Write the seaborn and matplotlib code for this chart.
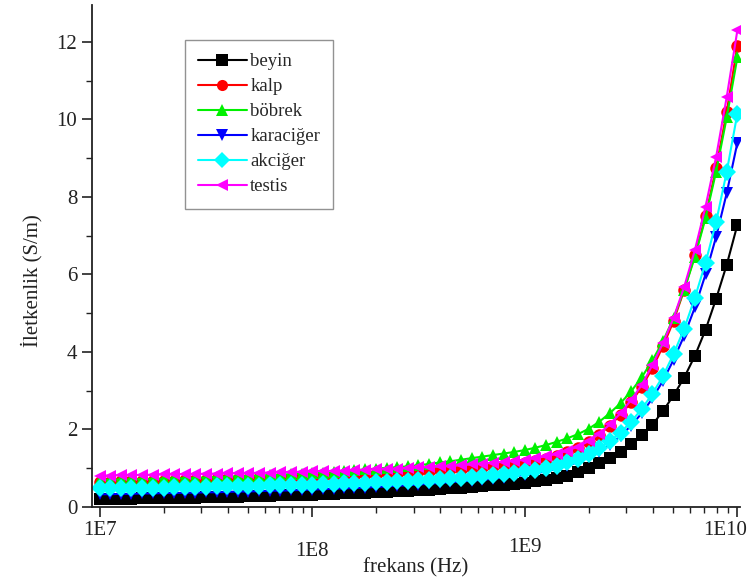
import numpy as np
import pandas as pd
import matplotlib
matplotlib.use("Agg")
import matplotlib.pyplot as plt
import matplotlib.transforms as mtransforms
import seaborn as sns
from matplotlib.ticker import LogLocator, NullFormatter, FixedLocator, FixedFormatter, MultipleLocator

# ---- data ----
mantissa = [1.00, 1.12, 1.26, 1.41, 1.58, 1.78, 2.00, 2.24, 2.51, 2.82,
            3.16, 3.55, 3.98, 4.47, 5.01, 5.62, 6.31, 7.08, 7.94, 8.91]
decades = [1e7, 1e8, 1e9]
frekans = [m * d for d in decades for m in mantissa] + [1e10]

beyin = [0.20, 0.20, 0.21, 0.21, 0.22, 0.22, 0.23, 0.23, 0.24, 0.24,
         0.25, 0.26, 0.26, 0.27, 0.28, 0.28, 0.29, 0.30, 0.30, 0.31,
         0.32, 0.33, 0.34, 0.35, 0.36, 0.37, 0.38, 0.39, 0.41, 0.42,
         0.44, 0.45, 0.47, 0.49, 0.50, 0.52, 0.54, 0.56, 0.58, 0.60,
         0.63, 0.66, 0.70, 0.75, 0.81, 0.90, 1.01, 1.13, 1.27, 1.43,
         1.62, 1.86, 2.12, 2.48, 2.88, 3.34, 3.90, 4.57, 5.37, 6.25,
         7.28]
kalp = [0.65, 0.65, 0.66, 0.66, 0.67, 0.67, 0.68, 0.68, 0.69, 0.69,
        0.70, 0.71, 0.71, 0.72, 0.73, 0.74, 0.74, 0.75, 0.76, 0.77,
        0.78, 0.79, 0.80, 0.81, 0.83, 0.84, 0.85, 0.87, 0.88, 0.90,
        0.92, 0.93, 0.95, 0.97, 0.99, 1.01, 1.03, 1.06, 1.08, 1.11,
        1.14, 1.19, 1.25, 1.32, 1.41, 1.53, 1.68, 1.87, 2.10, 2.38,
        2.70, 3.10, 3.58, 4.15, 4.80, 5.60, 6.50, 7.50, 8.75, 10.20,
        11.90]
bobrek = [0.70, 0.70, 0.71, 0.71, 0.72, 0.72, 0.73, 0.74, 0.74, 0.75,
          0.76, 0.77, 0.78, 0.79, 0.80, 0.81, 0.82, 0.83, 0.85, 0.86,
          0.88, 0.89, 0.91, 0.93, 0.95, 0.97, 0.99, 1.01, 1.03, 1.05,
          1.08, 1.11, 1.15, 1.18, 1.22, 1.26, 1.30, 1.34, 1.38, 1.42,
          1.47, 1.53, 1.60, 1.68, 1.77, 1.88, 2.02, 2.20, 2.42, 2.68,
          2.98, 3.35, 3.78, 4.28, 4.88, 5.60, 6.45, 7.45, 8.65, 10.05,
          11.60]
karaciger = [0.33, 0.33, 0.34, 0.34, 0.35, 0.35, 0.36, 0.36, 0.37, 0.37,
             0.38, 0.38, 0.39, 0.40, 0.40, 0.41, 0.42, 0.42, 0.43, 0.44,
             0.45, 0.46, 0.47, 0.48, 0.49, 0.50, 0.52, 0.53, 0.55, 0.56,
             0.58, 0.60, 0.62, 0.64, 0.66, 0.68, 0.70, 0.73, 0.76, 0.79,
             0.83, 0.87, 0.92, 0.98, 1.06, 1.16, 1.28, 1.43, 1.61, 1.83,
             2.10, 2.42, 2.80, 3.26, 3.80, 4.42, 5.15, 6.00, 6.97, 8.10,
             9.40]
akciger = [0.48, 0.48, 0.49, 0.49, 0.50, 0.50, 0.50, 0.51, 0.51, 0.52,
           0.52, 0.53, 0.53, 0.54, 0.54, 0.55, 0.56, 0.56, 0.57, 0.57,
           0.58, 0.59, 0.60, 0.61, 0.62, 0.63, 0.64, 0.65, 0.66, 0.67,
           0.69, 0.70, 0.72, 0.74, 0.76, 0.78, 0.80, 0.83, 0.86, 0.89,
           0.92, 0.96, 1.01, 1.07, 1.15, 1.25, 1.37, 1.52, 1.70, 1.92,
           2.20, 2.53, 2.92, 3.38, 3.95, 4.60, 5.40, 6.30, 7.35, 8.65,
           10.15]
testis = [0.81, 0.81, 0.82, 0.82, 0.83, 0.83, 0.84, 0.84, 0.85, 0.85,
          0.86, 0.86, 0.87, 0.87, 0.88, 0.88, 0.89, 0.90, 0.90, 0.91,
          0.92, 0.93, 0.93, 0.94, 0.95, 0.96, 0.97, 0.98, 0.99, 1.00,
          1.02, 1.03, 1.05, 1.06, 1.08, 1.10, 1.12, 1.14, 1.17, 1.19,
          1.22, 1.26, 1.31, 1.37, 1.45, 1.56, 1.70, 1.89, 2.13, 2.42,
          2.76, 3.15, 3.66, 4.23, 4.88, 5.68, 6.63, 7.75, 9.03, 10.58,
          12.30]

dokular = ["beyin", "kalp", "böbrek", "karaciğer", "akciğer", "testis"]
seriler = [beyin, kalp, bobrek, karaciger, akciger, testis]
renkler = ["#000000", "#FF0000", "#00F000", "#0000FF", "#00FFFF", "#FF00FF"]
isaretler = ["s", "o", "^", "v", "D", "<"]
xtick_vals = [1e7, 1e8, 1e9, 1e10]
xtick_labels = ["1E7", "1E8", "1E9", "1E10"]
ytick_vals = [0, 2, 4, 6, 8, 10, 12]

df = pd.concat([pd.DataFrame({"frekans": frekans, "iletkenlik": s, "doku": d})
                for d, s in zip(dokular, seriler)], ignore_index=True)

# ---- plot ----
sns.set_theme(style="ticks")
plt.rcParams["font.family"] = ["Liberation Serif", "DejaVu Serif"]

fig = plt.figure(figsize=(7.56, 5.77), dpi=100)
ax = fig.add_axes([0.1217, 0.1213, 0.8573, 0.870])

sns.lineplot(data=df, x="frekans", y="iletkenlik", hue="doku", style="doku",
             hue_order=dokular, style_order=dokular,
             palette=dict(zip(dokular, renkler)),
             markers=dict(zip(dokular, isaretler)), dashes=False,
             markersize=9, markeredgewidth=0, linewidth=1.5, ax=ax)

ax.set_xscale("log")
ax.set_xlim(9.2e6, 1.03e10)
ax.set_ylim(0, 12.95)

ax.xaxis.set_major_locator(FixedLocator(xtick_vals))
ax.xaxis.set_major_formatter(FixedFormatter(xtick_labels))
ax.xaxis.set_minor_locator(LogLocator(base=10, subs=np.arange(2, 10)))
ax.xaxis.set_minor_formatter(NullFormatter())
ax.yaxis.set_major_locator(FixedLocator(ytick_vals))
ax.yaxis.set_minor_locator(MultipleLocator(1))

for side in ["top", "right"]:
    ax.spines[side].set_visible(False)
for side in ["left", "bottom"]:
    ax.spines[side].set_linewidth(1.3)
    ax.spines[side].set_color("#222222")

ax.tick_params(axis="both", which="major", direction="out", length=7, width=1.2,
               labelsize=15, colors="#222222", labelcolor="#222222")
ax.tick_params(axis="both", which="minor", direction="out", length=4, width=1.0,
               colors="#222222")

pads = [3, 18, 15, 3]
for t, p in zip(ax.xaxis.get_major_ticks(), pads):
    t.set_pad(p)

ax.set_xlabel("frekans (Hz)", fontsize=15, color="#222222", labelpad=-2)
ax.set_ylabel("İletkenlik (S/m)", fontsize=15, color="#222222")
ax.yaxis.set_label_coords(-0.077, 0.45)

fig.canvas.draw()
lab = ax.get_xticklabels()[-1]
lab.set_transform(lab.get_transform() + mtransforms.ScaledTranslation(-12 / 100, 0, fig.dpi_scale_trans))

handles, labels = ax.get_legend_handles_labels()
leg = ax.legend(handles, labels, loc="upper left", bbox_to_anchor=(0.143, 0.93),
                borderaxespad=0, fancybox=False, frameon=True, edgecolor="#777777",
                fontsize=13.5, handlelength=2.6, handletextpad=0.2,
                labelspacing=0.42, borderpad=0.7)
leg.get_frame().set_linewidth(1.0)
for h in leg.legend_handles:
    h.set_markersize(8)

fig.savefig("out.png", dpi=100)
